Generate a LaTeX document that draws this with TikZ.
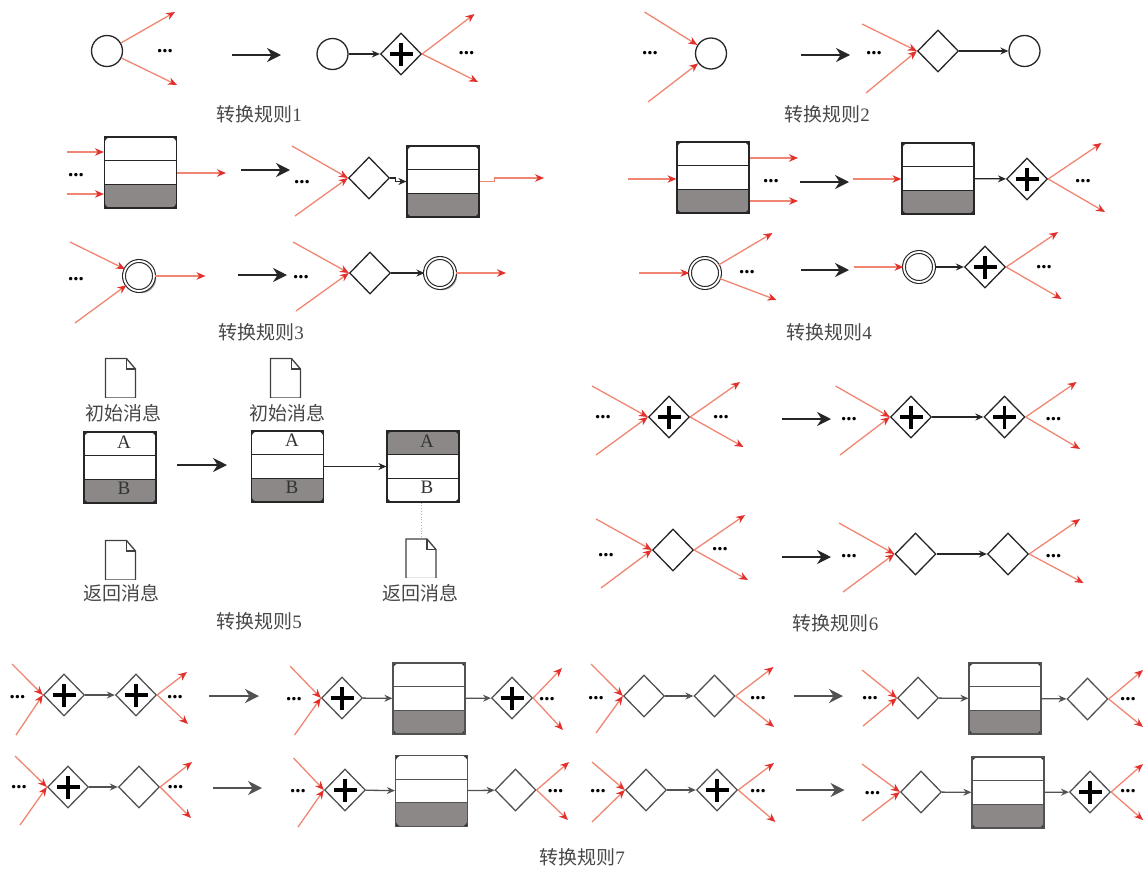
\documentclass[tikz,border=0pt]{standalone}
\usepackage{fontspec}
\setmainfont{Liberation Serif}
\newfontfamily\cjk{Noto Sans CJK SC}
\usetikzlibrary{arrows.meta,shapes.geometric,shadows,calc}

\definecolor{redline}{RGB}{240,134,114}
\definecolor{redtip}{RGB}{226,48,44}
\definecolor{lanegray}{RGB}{140,136,136}
\colorlet{bpmnline}{black!85}

\newcommand{\lanecells}[2]{
    \coordinate (pnw) at (path picture bounding box.north west);
    \coordinate (pse) at (path picture bounding box.south east);
    \coordinate (pa) at ($(pnw)!.335!(pse)$);
    \coordinate (pb) at ($(pnw)!.665!(pse)$);
    \begin{scope}
        \clip[rounded corners=7pt] (pnw) rectangle (pse);
        \fill[#1] (pnw) rectangle (pse |- pa);
        \fill[white] (pnw |- pa) rectangle (pse |- pb);
        \fill[#2] (pnw |- pb) rectangle (pse);
    \end{scope}
    \draw[bpmnline,line width=1.2pt] (pnw |- pa) -- (pse |- pa) (pnw |- pb) -- (pse |- pb);
}

\begin{document}
\begin{tikzpicture}[
    x=1pt,y=-1pt,
    >={Stealth[length=8pt,width=7pt]},
    gate/.style={
        diamond,
        draw=bpmnline,
        fill=white,
        shape aspect=1,
        inner sep=0pt,
        minimum width=41pt,
        minimum height=42pt,
        line width=1.3pt
    },
    plusgate/.style={
        gate,
        path picture={
            \draw[black,line width=3.4pt] (path picture bounding box.center) +(-11.5,0) -- +(11.5,0) +(0,-11.5) -- +(0,11.5);
        }
    },
    event/.style={
        circle,
        draw=bpmnline,
        fill=white,
        inner sep=0pt,
        minimum size=31pt,
        line width=1.3pt
    },
    endevent/.style={
        event,
        double=white,
        double distance=1.8pt,
        line width=1.1pt,
        minimum size=30pt
    },
    endshadow/.style={
        drop shadow={shadow xshift=2.2pt,shadow yshift=-2.2pt,opacity=.5,fill=black!70}
    },
    lane/.style 2 args={
        rectangle,
        draw=bpmnline,
        fill=black!80,
        inner sep=0pt,
        minimum width=72pt,
        minimum height=71pt,
        line width=1.2pt,
        path picture={\lanecells{#1}{#2}}
    },
    msgdoc/.style={
        rectangle,
        fill=white,
        inner sep=0pt,
        minimum width=33pt,
        minimum height=40pt,
        path picture={
            \draw[black!75,line width=1.3pt] (path picture bounding box.center) ++(-15,-18.5) -- ++(21,0) -- ++(9,10.5) -- ++(0,29) -- ++(-30,0) -- cycle;
            \draw[black!75,line width=1.3pt] (path picture bounding box.center) ++(6,-18.5) -- ++(0,10.5) -- ++(9,0);
        }
    },
    caption/.style={font=\fontsize{19}{22}\selectfont,text=black!72,inner sep=0pt},
    cell/.style={font=\fontsize{19}{22}\selectfont,text=black!80,inner sep=0pt},
    more/.style={font=\bfseries\fontsize{21}{21}\selectfont,inner sep=0pt},
    flow/.style={->,draw=bpmnline,line width=1.3pt},
    redflow/.style={-{Stealth[length=9pt,width=7.5pt,color=redtip]},draw=redline,line width=1.3pt},
    bigflow/.style={-{Stealth[length=14pt,width=14pt]},draw=bpmnline,line width=1.4pt},
    notelink/.style={dotted,draw=black!30,line width=.8pt}
]
\useasboundingbox (0,0) rectangle (1145,868);

% Rule 1
\node[event] (sa) at (107,51) {};
\coordinate (sa1) at (175,12); \coordinate (sa2) at (177,85);
\draw[redflow] (sa) -- (sa1);
\draw[redflow] (sa) -- (sa2);
\node[more] (ma) at (165,51) {...};
\coordinate (ba1) at (232,55); \coordinate (ba2) at (281,55);
\draw[bigflow] (ba1) -- (ba2);
\node[event] (sb) at (332.5,54) {};
\node[plusgate] (ga) at (401,54) {};
\draw[flow] (sb) -- (ga);
\coordinate (ga1) at (474.5,14); \coordinate (ga2) at (478,82);
\draw[redflow] (ga.east) -- (ga1);
\draw[redflow] (ga.east) -- (ga2);
\node[more] (mb) at (466.5,53) {...};
\node[caption] (ra) at (259,114) {{\cjk 转换规则}1};

% Rule 2
\node[event] (sc) at (711,53.5) {};
\coordinate (sc1) at (644.5,12); \coordinate (sc2) at (648,102);
\draw[redflow] (sc1) -- (sc);
\draw[redflow] (sc2) -- (sc);
\node[more] (mc) at (650,53) {...};
\coordinate (bb1) at (801,55); \coordinate (bb2) at (850,55);
\draw[bigflow] (bb1) -- (bb2);
\node[more] (md) at (874,53) {...};
\node[gate] (gb) at (938,51) {};
\node[event] (sd) at (1024.5,51) {};
\coordinate (gb1) at (862,24); \coordinate (gb2) at (866,93);
\draw[redflow] (gb1) -- (gb.west);
\draw[redflow] (gb2) -- (gb.west);
\draw[flow] (gb) -- (sd);
\node[caption] (rb) at (827,114) {{\cjk 转换规则}2};

% Rule 3, task row
\node[lane={white}{lanegray}] (ta) at (140.5,172.5) {};
\coordinate (ta1) at (67,152); \coordinate (ta2) at (67,194); \coordinate (ta3) at (226,173);
\draw[redflow] (ta1) -- (ta1 -| ta.west);
\draw[redflow] (ta2) -- (ta2 -| ta.west);
\draw[redflow] (ta3 -| ta.east) -- (ta3);
\node[more] (me) at (76,175) {...};
\coordinate (bc1) at (241,170); \coordinate (bc2) at (290,170);
\draw[bigflow] (bc1) -- (bc2);
\node[more] (mf) at (302,182) {...};
\node[gate] (gc) at (369,178) {};
\node[lane={white}{lanegray}] (tb) at (443,181.5) {};
\coordinate (gc1) at (292,146); \coordinate (gc2) at (295,216); \coordinate (tb1) at (544,178);
\draw[redflow] (gc1) -- (gc.west);
\draw[redflow] (gc2) -- (gc.west);
\draw[flow] (gc.east) -- ++(5,0) |- (tb.west);
\draw[redflow] (tb.east) -- ++(15,0) |- (tb1);

% Rule 3, event row
\node[endevent,endshadow] (ee) at (139,276) {};
\coordinate (ee1) at (70,242); \coordinate (ee2) at (75,323); \coordinate (ee3) at (205.5,276);
\draw[redflow] (ee1) -- (ee);
\draw[redflow] (ee2) -- (ee);
\draw[redflow] (ee) -- (ee3);
\node[more] (mg) at (76,279) {...};
\coordinate (bd1) at (238,275); \coordinate (bd2) at (287,275);
\draw[bigflow] (bd1) -- (bd2);
\node[more] (mh) at (301,277) {...};
\node[gate] (gd) at (370,273) {};
\node[endevent,endshadow] (ef) at (440,273) {};
\coordinate (gd1) at (293,242); \coordinate (gd2) at (296,311); \coordinate (ef1) at (506,273);
\draw[redflow] (gd1) -- (gd.west);
\draw[redflow] (gd2) -- (gd.west);
\draw[flow] (gd) -- (ef);
\draw[redflow] (ef) -- (ef1);
\node[caption] (rc) at (261,332) {{\cjk 转换规则}3};

% Rule 4, task row
\node[lane={white}{lanegray}] (tc) at (713,177.5) {};
\coordinate (tc1) at (627.5,179); \coordinate (tc2) at (798,158); \coordinate (tc3) at (798,201);
\draw[redflow] (tc1) -- (tc1 -| tc.west);
\draw[redflow] (tc2 -| tc.east) -- (tc2);
\draw[redflow] (tc3 -| tc.east) -- (tc3);
\node[more] (mi) at (771,181) {...};
\coordinate (be1) at (800,182); \coordinate (be2) at (849,182);
\draw[bigflow] (be1) -- (be2);
\node[lane={white}{lanegray}] (td) at (938,178.5) {};
\node[plusgate] (ge) at (1027,179) {};
\coordinate (td1) at (853,179); \coordinate (ge1) at (1101.5,143); \coordinate (ge2) at (1105,212);
\draw[redflow] (td1) -- (td1 -| td.west);
\draw[flow] (td) -- (ge);
\draw[redflow] (ge.east) -- (ge1);
\draw[redflow] (ge.east) -- (ge2);
\node[more] (mj) at (1083,181) {...};

% Rule 4, event row
\node[endevent] (eg) at (705,273) {};
\coordinate (eg1) at (639,273); \coordinate (eg2) at (772.5,233); \coordinate (eg3) at (776.5,300);
\draw[redflow] (eg1) -- (eg);
\draw[redflow] (eg) -- (eg2);
\draw[redflow] (eg) -- (eg3);
\node[more] (mk) at (747,272) {...};
\coordinate (bf1) at (801,270); \coordinate (bf2) at (849,270);
\draw[bigflow] (bf1) -- (bf2);
\node[endevent] (eh) at (919,267) {};
\node[plusgate] (gf) at (985,267) {};
\coordinate (eh1) at (853.5,267); \coordinate (gf1) at (1058,232); \coordinate (gf2) at (1061.5,299);
\draw[redflow] (eh1) -- (eh);
\draw[flow] (eh) -- (gf);
\draw[redflow] (gf.east) -- (gf1);
\draw[redflow] (gf.east) -- (gf2);
\node[more] (ml) at (1044,267) {...};
\node[caption] (rd) at (829,332) {{\cjk 转换规则}4};

% Rule 5
\node[msgdoc] (da) at (120.5,377) {};
\node[caption] (dat) at (123,413) {\cjk 初始消息};
\node[lane={white}{lanegray}] (te) at (120,467.5) {};
\node[cell] (tea) at (124,442) {A};
\node[cell] (teb) at (124,488) {B};
\node[msgdoc] (db) at (120.5,559) {};
\node[caption] (dbt) at (121,593) {\cjk 返回消息};
\coordinate (bg1) at (177,465); \coordinate (bg2) at (227,465);
\draw[bigflow] (bg1) -- (bg2);
\node[msgdoc] (dc) at (285.5,377) {};
\node[caption] (dct) at (287,413) {\cjk 初始消息};
\node[lane={white}{lanegray}] (tf) at (287.5,466.5) {};
\node[cell] (tfa) at (292,440) {A};
\node[cell] (tfb) at (292,487) {B};
\node[lane={lanegray}{white}] (tg) at (423,466.5) {};
\node[cell] (tga) at (427,441) {A};
\node[cell] (tgb) at (427,487) {B};
\draw[flow] (tf) -- (tg);
\node[msgdoc] (dd) at (421,557.5) {};
\node[caption] (ddt) at (420,593) {\cjk 返回消息};
\draw[notelink] (dd.north |- tg.south) -- (dd.north);
\node[caption] (re) at (259,621) {{\cjk 转换规则}5};

% Rule 6, plus row
\node[plusgate] (gg) at (669,417) {};
\coordinate (gg1) at (592,386); \coordinate (gg2) at (596,455); \coordinate (gg3) at (740,382); \coordinate (gg4) at (743.5,447);
\draw[redflow] (gg1) -- (gg.west);
\draw[redflow] (gg2) -- (gg.west);
\draw[redflow] (gg.east) -- (gg3);
\draw[redflow] (gg.east) -- (gg4);
\node[more] (mm) at (603,417) {...};
\node[more] (mn) at (721,417) {...};
\coordinate (bh1) at (782,419); \coordinate (bh2) at (831,419);
\draw[bigflow] (bh1) -- (bh2);
\node[more] (mo) at (849,419) {...};
\node[plusgate] (gh) at (911,417) {};
\node[plusgate] (gi) at (1004.5,417) {};
\coordinate (gh1) at (835.5,386); \coordinate (gh2) at (840,455); \coordinate (gi1) at (1076.5,382); \coordinate (gi2) at (1080,449);
\draw[redflow] (gh1) -- (gh.west);
\draw[redflow] (gh2) -- (gh.west);
\draw[flow] (gh) -- (gi);
\draw[redflow] (gi.east) -- (gi1);
\draw[redflow] (gi.east) -- (gi2);
\node[more] (mp) at (1053.5,419) {...};

% Rule 6, plain row
\node[gate] (gj) at (673,550) {};
\coordinate (gj1) at (596,519); \coordinate (gj2) at (601,588); \coordinate (gj3) at (745,515); \coordinate (gj4) at (748,580);
\draw[redflow] (gj1) -- (gj.west);
\draw[redflow] (gj2) -- (gj.west);
\draw[redflow] (gj.east) -- (gj3);
\draw[redflow] (gj.east) -- (gj4);
\node[more] (mq) at (606,555) {...};
\node[more] (mr) at (720,549) {...};
\coordinate (bi1) at (782,557); \coordinate (bi2) at (831,557);
\draw[bigflow] (bi1) -- (bi2);
\node[more] (ms) at (849,556) {...};
\node[gate] (gk) at (915.5,554) {};
\node[gate] (gl) at (1008,554) {};
\coordinate (gk1) at (839,523); \coordinate (gk2) at (843,592); \coordinate (gl1) at (1080,519); \coordinate (gl2) at (1083.5,583);
\draw[redflow] (gk1) -- (gk.west);
\draw[redflow] (gk2) -- (gk.west);
\draw[flow] (gk) -- (gl);
\draw[redflow] (gl.east) -- (gl1);
\draw[redflow] (gl.east) -- (gl2);
\node[more] (mt) at (1053.5,556) {...};
\node[caption] (rf) at (835.5,623) {{\cjk 转换规则}6};

% Rule 7
\begin{scope}
\colorlet{bpmnline}{black!68}

% top left
\node[plusgate] (ha) at (64,695) {};
\node[plusgate] (hb) at (136,695) {};
\coordinate (ha1) at (12,664); \coordinate (ha2) at (16,735); \coordinate (hb1) at (187,672); \coordinate (hb2) at (188,724);
\draw[redflow] (ha1) -- (ha.west);
\draw[redflow] (ha2) -- (ha.west);
\draw[flow] (ha) -- (hb);
\draw[redflow] (hb.east) -- (hb1);
\draw[redflow] (hb.east) -- (hb2);
\node[more] (na) at (17.5,697) {...};
\node[more] (nb) at (175,697) {...};
\coordinate (ca1) at (209,696); \coordinate (ca2) at (259,696);
\draw[bigflow] (ca1) -- (ca2);
\node[plusgate] (hc) at (342,698) {};
\node[lane={white}{lanegray}] (ua) at (429,698.5) {};
\node[plusgate] (hd) at (512,698) {};
\coordinate (hc1) at (290,666); \coordinate (hc2) at (294.5,735); \coordinate (hd1) at (562,668); \coordinate (hd2) at (563,730);
\draw[redflow] (hc1) -- (hc.west);
\draw[redflow] (hc2) -- (hc.west);
\draw[flow] (hc) -- (ua);
\draw[flow] (ua) -- (hd);
\draw[redflow] (hd.east) -- (hd1);
\draw[redflow] (hd.east) -- (hd2);
\node[more] (nc) at (294,699) {...};
\node[more] (nd) at (547,699) {...};

% bottom left
\node[plusgate] (he) at (68,787) {};
\node[gate] (hf) at (139,787) {};
\coordinate (he1) at (15,756); \coordinate (he2) at (20,825); \coordinate (hf1) at (192,762); \coordinate (hf2) at (191,818);
\draw[redflow] (he1) -- (he.west);
\draw[redflow] (he2) -- (he.west);
\draw[flow] (he) -- (hf);
\draw[redflow] (hf.east) -- (hf1);
\draw[redflow] (hf.east) -- (hf2);
\node[more] (ne) at (19,787) {...};
\node[more] (nf) at (175.5,787) {...};
\coordinate (cb1) at (213,788); \coordinate (cb2) at (262,788);
\draw[bigflow] (cb1) -- (cb2);
\node[plusgate] (hg) at (345,790) {};
\node[lane={white}{lanegray}] (ub) at (431.5,791) {};
\node[gate] (hh) at (515.5,790) {};
\coordinate (hg1) at (293.5,758); \coordinate (hg2) at (298,827); \coordinate (hh1) at (569,762); \coordinate (hh2) at (568,820);
\draw[redflow] (hg1) -- (hg.west);
\draw[redflow] (hg2) -- (hg.west);
\draw[flow] (hg) -- (ub);
\draw[flow] (ub) -- (hh);
\draw[redflow] (hh.east) -- (hh1);
\draw[redflow] (hh.east) -- (hh2);
\node[more] (ng) at (298,791) {...};
\node[more] (nh) at (555.5,791) {...};

% top right
\node[gate] (hi) at (644,696) {};
\node[gate] (hj) at (714.5,696) {};
\coordinate (hi1) at (591,664); \coordinate (hi2) at (596,733); \coordinate (hj1) at (773.5,667); \coordinate (hj2) at (774,727);
\draw[redflow] (hi1) -- (hi.west);
\draw[redflow] (hi2) -- (hi.west);
\draw[flow] (hi) -- (hj);
\draw[redflow] (hj.east) -- (hj1);
\draw[redflow] (hj.east) -- (hj2);
\node[more] (ni) at (596,698) {...};
\node[more] (nj) at (758,698) {...};
\coordinate (cc1) at (793.5,696); \coordinate (cc2) at (843,696);
\draw[bigflow] (cc1) -- (cc2);
\node[gate] (hk) at (918,698) {};
\node[lane={white}{lanegray}] (uc) at (1005,698.5) {};
\node[gate] (hl) at (1087.5,699) {};
\coordinate (hk1) at (862,670); \coordinate (hk2) at (863,726); \coordinate (hl1) at (1143,670); \coordinate (hl2) at (1143,727);
\draw[redflow] (hk1) -- (hk.west);
\draw[redflow] (hk2) -- (hk.west);
\draw[flow] (hk) -- (uc);
\draw[flow] (uc) -- (hl);
\draw[redflow] (hl.east) -- (hl1);
\draw[redflow] (hl.east) -- (hl2);
\node[more] (nk) at (870,698) {...};
\node[more] (nl) at (1128,699) {...};

% bottom right
\node[gate] (hm) at (646,790) {};
\node[plusgate] (hn) at (717,790) {};
\coordinate (hm1) at (592,762); \coordinate (hm2) at (592,822); \coordinate (hn1) at (774,763); \coordinate (hn2) at (775.5,822);
\draw[redflow] (hm1) -- (hm.west);
\draw[redflow] (hm2) -- (hm.west);
\draw[flow] (hm) -- (hn);
\draw[redflow] (hn.east) -- (hn1);
\draw[redflow] (hn.east) -- (hn2);
\node[more] (nm) at (598,791) {...};
\node[more] (nn) at (758,791) {...};
\coordinate (cd1) at (796,790); \coordinate (cd2) at (844.5,790);
\draw[bigflow] (cd1) -- (cd2);
\node[gate] (ho) at (921,792) {};
\node[lane={white}{lanegray}] (ud) at (1008,792.5) {};
\node[plusgate] (hp) at (1090,792) {};
\coordinate (ho1) at (862,764); \coordinate (ho2) at (862,821); \coordinate (hp1) at (1143,764); \coordinate (hp2) at (1143,820);
\draw[redflow] (ho1) -- (ho.west);
\draw[redflow] (ho2) -- (ho.west);
\draw[flow] (ho) -- (ud);
\draw[flow] (ud) -- (hp);
\draw[redflow] (hp.east) -- (hp1);
\draw[redflow] (hp.east) -- (hp2);
\node[more] (no) at (872.5,793) {...};
\node[more] (np) at (1128,791) {...};
\end{scope}
\node[caption] (rg) at (582,857) {{\cjk 转换规则}7};

\end{tikzpicture}
\end{document}
